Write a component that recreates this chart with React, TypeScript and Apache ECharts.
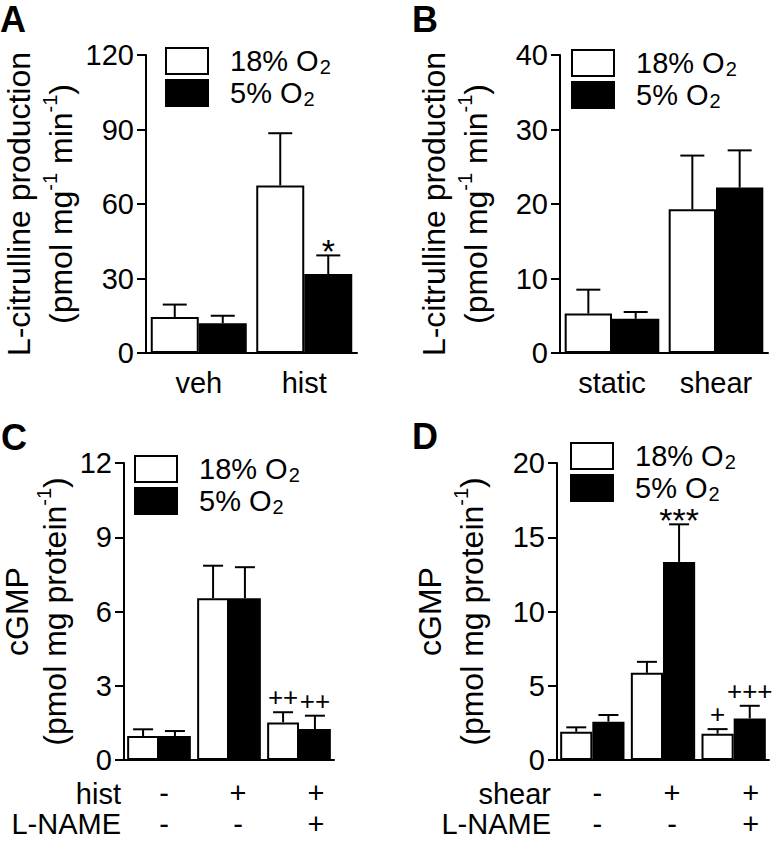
import React, { useEffect, useRef } from "react";
import * as echarts from "echarts";

// ---------- data ----------
const catsA = ["veh", "hist"];
const a18 = [14.5, 67.5];
const a18Err = [19.5, 88.5];
const a5 = [12, 31.8];
const a5Err = [15, 39.3];
const sigA18 = ["", ""];
const sigA5 = ["", "*"];
const ticksA = { min: 0, max: 120, interval: 30 };

const catsB = ["static", "shear"];
const b18 = [5.3, 19.3];
const b18Err = [8.5, 26.5];
const b5 = [4.6, 22.2];
const b5Err = [5.5, 27.2];
const sigB18 = ["", ""];
const sigB5 = ["", ""];
const ticksB = { min: 0, max: 40, interval: 10 };

const catsC = ["-\n-", "+\n-", "+\n+"];
const c18 = [0.97, 6.54, 1.52];
const c18Err = [1.24, 7.85, 1.93];
const c5 = [0.97, 6.54, 1.25];
const c5Err = [1.17, 7.79, 1.79];
const sigC18 = ["", "", "++"];
const sigC5 = ["", "", "++"];
const ticksC = { min: 0, max: 12, interval: 3 };
const rowsC = ["hist", "L-NAME"];

const catsD = ["-\n-", "+\n-", "+\n+"];
const d18 = [1.9, 5.87, 1.77];
const d18Err = [2.2, 6.61, 2.08];
const d5 = [2.58, 13.34, 2.8];
const d5Err = [3.03, 15.87, 3.65];
const sigD18 = ["", "", "+"];
const sigD5 = ["", "***", "+++"];
const ticksD = { min: 0, max: 20, interval: 5 };
const rowsD = ["shear", "L-NAME"];

const NAME18 = "18% O2";
const NAME5 = "5% O2";

const FONT = "'Liberation Sans', Arial, Helvetica, sans-serif";
const BAR_GAP = 0.09;
const TICK_FS = 29;
const TITLE_FS = 32;

type Panel = {
  grid: { left: number; top: number; width: number; height: number };
  cats: string[];
  v18: number[];
  e18: number[];
  v5: number[];
  e5: number[];
  s18: string[];
  s5: string[];
  ticks: { min: number; max: number; interval: number };
  title1: string;
  title2: string;
  nameGap: number;
  line1H: number;
  legend: { left: number; top: number };
  twoRow: boolean;
  cap: number;
};

const panels: Panel[] = [
  {
    grid: { left: 146, top: 55, width: 211, height: 298 },
    cats: catsA, v18: a18, e18: a18Err, v5: a5, e5: a5Err, s18: sigA18, s5: sigA5,
    ticks: ticksA,
    title1: "{u|L-citrulline production}",
    title2: "{t|(pmol mg}{s|-1}{t| min}{s|-1}{t|)}",
    nameGap: 53, line1H: 24,
    legend: { left: 160, top: 40 }, twoRow: false, cap: 24,
  },
  {
    grid: { left: 560, top: 55, width: 208, height: 298 },
    cats: catsB, v18: b18, e18: b18Err, v5: b5, e5: b5Err, s18: sigB18, s5: sigB5,
    ticks: ticksB,
    title1: "{u|L-citrulline production}",
    title2: "{t|(pmol mg}{s|-1}{t| min}{s|-1}{t|)}",
    nameGap: 54, line1H: 24,
    legend: { left: 566, top: 42 }, twoRow: false, cap: 24,
  },
  {
    grid: { left: 124, top: 463, width: 210, height: 297 },
    cats: catsC, v18: c18, e18: c18Err, v5: c5, e5: c5Err, s18: sigC18, s5: sigC5,
    ticks: ticksC,
    title1: "{u|cGMP}",
    title2: "{t|(pmol mg protein}{s|-1}{t|)}",
    nameGap: 32, line1H: 16,
    legend: { left: 129, top: 448 }, twoRow: true, cap: 20,
  },
  {
    grid: { left: 557, top: 463, width: 212, height: 297 },
    cats: catsD, v18: d18, e18: d18Err, v5: d5, e5: d5Err, s18: sigD18, s5: sigD5,
    ticks: ticksD,
    title1: "{u|cGMP}",
    title2: "{t|(pmol mg protein}{s|-1}{t|)}",
    nameGap: 55, line1H: 24,
    legend: { left: 565, top: 435 }, twoRow: true, cap: 20,
  },
];

function buildOption() {
  const grid: any[] = [];
  const xAxis: any[] = [];
  const yAxis: any[] = [];
  const series: any[] = [];
  const legend: any[] = [];

  const labelPad = [10, 18, 34];

  panels.forEach((p, gi) => {
    grid.push({ ...p.grid, containLabel: false, outerBoundsMode: "none" });
    xAxis.push({
      type: "category",
      gridIndex: gi,
      data: p.cats,
      axisLine: { lineStyle: { color: "#000", width: 2 } },
      axisTick: { alignWithLabel: true, length: 11, lineStyle: { color: "#000", width: 2 } },
      axisLabel: p.twoRow
        ? {
            color: "#000",
            fontFamily: FONT,
            fontSize: TICK_FS,
            margin: 17,
            interval: 0,
            formatter: (v: string, i: number) =>
              v.split("\n").map((s) => `{c${i}|${s}}`).join("\n"),
            rich: {
              c0: { fontSize: TICK_FS, fontFamily: FONT, color: "#000", lineHeight: 31, padding: [0, 0, 0, labelPad[0]] },
              c1: { fontSize: TICK_FS, fontFamily: FONT, color: "#000", lineHeight: 31, padding: [0, 0, 0, labelPad[1]] },
              c2: { fontSize: TICK_FS, fontFamily: FONT, color: "#000", lineHeight: 31, padding: [0, 0, 0, labelPad[2]] },
            },
          }
        : { color: "#000", fontFamily: FONT, fontSize: TICK_FS, margin: 15, interval: 0 },
      splitLine: { show: false },
    });
    yAxis.push({
      type: "value",
      gridIndex: gi,
      min: p.ticks.min,
      max: p.ticks.max,
      interval: p.ticks.interval,
      axisLine: { show: true, lineStyle: { color: "#000", width: 2 } },
      axisTick: { show: true, length: 9, lineStyle: { color: "#000", width: 2 } },
      axisLabel: { color: "#000", fontFamily: FONT, fontSize: TICK_FS, margin: 12 },
      splitLine: { show: false },
      name: p.title1 + "\n" + p.title2,
      nameLocation: "middle",
      nameRotate: 90,
      nameGap: p.nameGap,
      nameTextStyle: {
        color: "#000",
        fontFamily: FONT,
        fontSize: TITLE_FS,
        rich: {
          u: { fontSize: TITLE_FS, fontFamily: FONT, color: "#000", lineHeight: p.line1H },
          t: { fontSize: TITLE_FS, fontFamily: FONT, color: "#000", lineHeight: 60 },
          s: { fontSize: 20, fontFamily: FONT, color: "#000", lineHeight: 20, padding: [0, 0, 22, 0] },
        },
      },
    });

    const barBase = {
      type: "bar",
      xAxisIndex: gi,
      yAxisIndex: gi,
      barGap: "0%",
      barCategoryGap: BAR_GAP * 100 + "%",
    };
    series.push({
      ...barBase,
      name: NAME18,
      data: p.v18,
      itemStyle: { color: "#fff", borderColor: "#000", borderWidth: 2 },
    });
    series.push({
      ...barBase,
      name: NAME5,
      data: p.v5,
      itemStyle: { color: "#000", borderColor: "#000", borderWidth: 2 },
    });

    const mkErr = (vals: number[], errs: number[], sig: string[], side: number) => ({
      type: "custom",
      name: "err" + gi + side,
      xAxisIndex: gi,
      yAxisIndex: gi,
      z: 3,
      data: vals.map((v, i) => [i, v, errs[i], sig[i]]),
      renderItem: (params: any, api: any) => {
        const idx = api.value(0);
        const x0 = api.coord([idx, 0])[0];
        const band = api.size([1, 0])[0];
        const bw = (band * (1 - BAR_GAP)) / 2;
        const cx = x0 + (side * bw) / 2;
        const yb = api.coord([idx, api.value(1)])[1];
        const yt = api.coord([idx, api.value(2)])[1];
        const sigText = sig[idx] || "";
        const children: any[] = [
          { type: "line", shape: { x1: cx, y1: yb, x2: cx, y2: yt }, style: { stroke: "#000", lineWidth: 2 } },
          { type: "line", shape: { x1: cx - p.cap / 2, y1: yt, x2: cx + p.cap / 2, y2: yt }, style: { stroke: "#000", lineWidth: 2 } },
        ];
        if (sigText) {
          const isStar = sigText.indexOf("*") >= 0;
          children.push({
            type: "text",
            x: cx,
            y: isStar ? yt - 4 : yt - 15,
            style: {
              text: sigText,
              fill: "#000",
              fontFamily: FONT,
              fontSize: isStar ? 34 : 26,
              align: "center",
              verticalAlign: "middle",
            },
          });
        }
        return { type: "group", children };
      },
    });
    series.push(mkErr(p.v18, p.e18, p.s18, -1));
    series.push(mkErr(p.v5, p.e5, p.s5, 1));

    legend.push({
      left: p.legend.left,
      top: p.legend.top,
      orient: "vertical",
      itemWidth: 42,
      itemHeight: 26,
      itemGap: 0,
      icon: "rect",
      selectedMode: false,
      data: [
        { name: NAME18, itemStyle: { color: "#fff", borderColor: "#000", borderWidth: 2 } },
        { name: NAME5, itemStyle: { color: "#000", borderColor: "#000", borderWidth: 2 } },
      ],
      formatter: (name: string) => (name === NAME18 ? "{a|18% O}{b|2}" : "{a|5% O}{b|2}"),
      textStyle: {
        color: "#000",
        fontFamily: FONT,
        fontSize: TICK_FS,
        padding: [0, 0, 0, 17],
        rich: {
          a: { fontSize: TICK_FS, fontFamily: FONT, color: "#000", lineHeight: 33 },
          b: { fontSize: 20, fontFamily: FONT, color: "#000", lineHeight: 20, padding: [12, 0, 0, 1] },
        },
      },
    });
  });

  const letter = (t: string, x: number, y: number) => ({
    type: "text",
    x,
    y,
    style: { text: t, fill: "#000", fontFamily: FONT, fontSize: 36, fontWeight: "bold", align: "left", verticalAlign: "top" },
  });
  const rowLabel = (t: string, x: number, y: number) => ({
    type: "text",
    x,
    y,
    style: { text: t, fill: "#000", fontFamily: FONT, fontSize: TICK_FS, align: "right", verticalAlign: "middle" },
  });

  const graphic: any[] = [
    letter("A", 0, 1),
    letter("B", 412, 1),
    letter("C", 1, 419),
    letter("D", 412, 418),
    rowLabel(rowsC[0], 121, 794),
    rowLabel(rowsC[1], 121, 824),
    rowLabel(rowsD[0], 551, 794),
    rowLabel(rowsD[1], 551, 824),
  ];

  return {
    animation: false,
    backgroundColor: "#fff",
    textStyle: { fontFamily: FONT },
    grid,
    xAxis,
    yAxis,
    series,
    legend,
    graphic,
  };
}

export default function App() {
  const ref = useRef<HTMLDivElement>(null);
  useEffect(() => {
    document.body.style.margin = "0";
    if (!ref.current) return;
    const chart = echarts.init(ref.current, undefined, { renderer: "svg" });
    chart.setOption(buildOption() as any);
    return () => chart.dispose();
  }, []);
  return <div ref={ref} style={{ width: 776, height: 841 }} />;
}
